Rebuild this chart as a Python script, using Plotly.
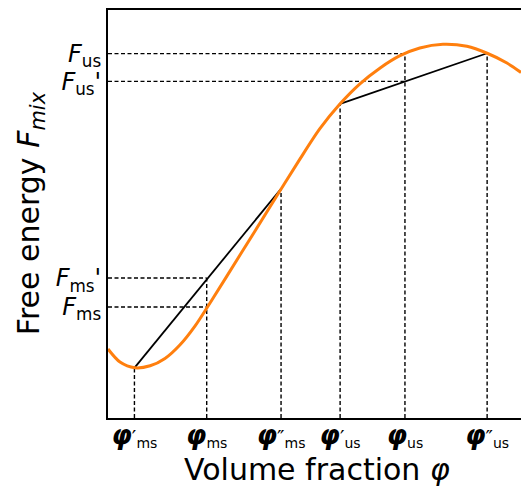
import plotly.graph_objects as go

# Free-energy curve (phi in [0,1], F in arbitrary units)
curve_phi = [0.000, 0.029, 0.065, 0.102, 0.138, 0.174, 0.211, 0.247, 0.320, 0.392,
             0.465, 0.513, 0.562, 0.610, 0.659, 0.707, 0.755, 0.811, 0.869, 0.918,
             0.966, 1.000]
curve_F = [0.169, 0.137, 0.123, 0.128, 0.146, 0.179, 0.226, 0.282, 0.400, 0.517,
           0.635, 0.709, 0.770, 0.819, 0.858, 0.888, 0.907, 0.916, 0.911, 0.894,
           0.870, 0.847]

# Special compositions and energies
phi_ms1, phi_ms, phi_ms2 = 0.064, 0.239, 0.419
phi_us1, phi_us, phi_us2 = 0.562, 0.719, 0.918
F_ms1, F_ms2 = 0.123, 0.562          # common tangent ends (metastable)
F_us1, F_us2 = 0.770, 0.894          # common tangent ends (unstable)
F_ms, F_ms_p = 0.272, 0.343
F_us, F_us_p = 0.893, 0.825

PHI = '<span style="font-size:26px"><b><i>φ</i></b></span>'
x_tickvals = [phi_ms1, phi_ms, phi_ms2, phi_us1, phi_us, phi_us2]
x_ticktext = [PHI + "′<sub>ms</sub>", PHI + "<sub>ms</sub>",
              PHI + "″<sub>ms</sub>", PHI + "′<sub>us</sub>",
              PHI + "<sub>us</sub>", PHI + "″<sub>us</sub>"]
y_tickvals = [F_ms, F_ms_p, F_us_p, F_us]
y_ticktext = ["<i>F</i><sub>ms</sub>", "<i>F</i><sub>ms</sub>'",
              "<i>F</i><sub>us</sub>'", "<i>F</i><sub>us</sub>"]

fig = go.Figure()

dash_style = dict(color="black", width=1.4, dash="4px,2.5px")
# vertical guide lines
v_x = [phi_ms1, phi_ms, phi_ms2, phi_us1, phi_us, phi_us2]
v_top = [F_ms1, F_ms_p, F_ms2, F_us1, F_us, F_us2]
for xv, yt in zip(v_x, v_top):
    fig.add_trace(go.Scatter(x=[xv, xv], y=[0, yt], mode="lines", line=dash_style,
                             hoverinfo="skip", showlegend=False))
# horizontal guide lines
h_y = [F_ms, F_ms_p, F_us_p, F_us]
h_right = [phi_ms, phi_ms, phi_us, phi_us]
for yv, xr in zip(h_y, h_right):
    fig.add_trace(go.Scatter(x=[0, xr], y=[yv, yv], mode="lines", line=dash_style,
                             hoverinfo="skip", showlegend=False))

# tangent lines
fig.add_trace(go.Scatter(x=[phi_ms1, phi_ms2], y=[F_ms1, F_ms2], mode="lines",
                         line=dict(color="black", width=1.8), showlegend=False))
fig.add_trace(go.Scatter(x=[phi_us1, phi_us2], y=[F_us1, F_us2], mode="lines",
                         line=dict(color="black", width=1.8), showlegend=False))

# free energy curve
fig.add_trace(go.Scatter(x=curve_phi, y=curve_F, mode="lines",
                         line=dict(color="#ff7f0e", width=3, shape="spline", smoothing=0.8),
                         showlegend=False))

fig.update_layout(
    width=521, height=488,
    margin=dict(l=108, r=0, t=10, b=70),
    paper_bgcolor="white", plot_bgcolor="white",
    font=dict(family="DejaVu Sans", color="black"),
    xaxis=dict(range=[0, 1], showgrid=False, zeroline=False, showline=True,
               linecolor="black", linewidth=2, mirror=True, ticks="",
               tickvals=x_tickvals, ticktext=x_ticktext, ticklabelstandoff=0,
               tickfont=dict(size=20, family="DejaVu Sans", color="black")),
    yaxis=dict(range=[0, 1], showgrid=False, zeroline=False, showline=True,
               linecolor="black", linewidth=2, mirror=False, ticks="",
               tickvals=y_tickvals, ticktext=y_ticktext,
               tickfont=dict(size=24, family="DejaVu Sans", color="black")),
    annotations=[
        dict(text="Volume fraction <i>φ</i>", xref="paper", yref="paper",
             x=0.506, y=-0.125, xanchor="center", yanchor="middle", showarrow=False,
             font=dict(size=30, family="DejaVu Sans", color="black")),
        dict(text="Free energy <i>F</i><sub><i>mix</i></sub>", xref="paper", yref="paper",
             x=-0.189, y=0.502, xanchor="center", yanchor="middle", showarrow=False,
             textangle=-90, font=dict(size=30, family="DejaVu Sans", color="black")),
    ],
)

fig.write_html("out.html")
